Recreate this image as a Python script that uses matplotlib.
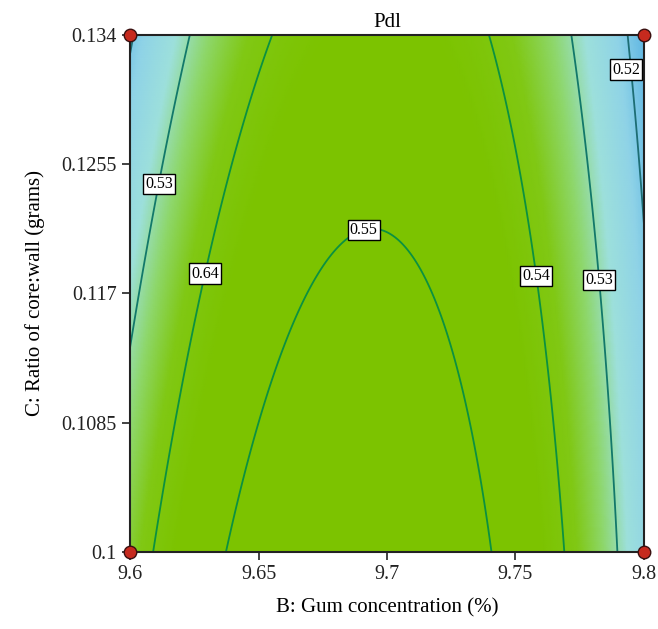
import numpy as np
import matplotlib.pyplot as plt
from matplotlib.colors import LinearSegmentedColormap

# factor ranges (actual units)
gum_range = [9.6, 9.8]
ratio_range = [0.1, 0.134]

# quadratic response model for Pdl in coded units (B = gum, C = ratio)
b0 = 0.55147
bB = -0.00362
bC = -0.00604
bBB = -0.0268
bCC = -0.00068
bBC = 0.00228

levels = [0.52, 0.53, 0.54, 0.55]
level_colors = ["#1d6d74", "#12786a", "#0b9140", "#0b9140"]

xticks = [9.6, 9.65, 9.7, 9.75, 9.8]
xtick_labels = ["9.6", "9.65", "9.7", "9.75", "9.8"]
yticks = [0.1, 0.1085, 0.117, 0.1255, 0.134]
ytick_labels = ["0.1", "0.1085", "0.117", "0.1255", "0.134"]

design_x = [9.6, 9.6, 9.8, 9.8]
design_y = [0.1, 0.134, 0.1, 0.134]

plt.rcParams['font.family'] = ['Liberation Serif', 'DejaVu Serif']

gum = np.linspace(gum_range[0], gum_range[1], 300)
ratio = np.linspace(ratio_range[0], ratio_range[1], 300)
G, R = np.meshgrid(gum, ratio)
B = (G - np.mean(gum_range)) / (np.diff(gum_range)[0] / 2)
C = (R - np.mean(ratio_range)) / (np.diff(ratio_range)[0] / 2)
Z = b0 + bB * B + bC * C + bBB * B ** 2 + bCC * C ** 2 + bBC * B * C

cmap = LinearSegmentedColormap.from_list("de", [
    (0.0, "#5cb4e2"),
    (0.14, "#8fd3e7"),
    (0.28, "#9de0dc"),
    (0.40, "#8ed76c"),
    (0.52, "#80c814"),
    (0.66, "#7cc300"),
    (1.0, "#7cc300"),
])

fig = plt.figure(figsize=(6.58, 6.29), dpi=100)
ax = fig.add_axes([0.1976, 0.1224, 0.7811, 0.8220])

ax.pcolormesh(G, R, Z, cmap=cmap, vmin=0.516, vmax=0.558, shading="gouraud")
cs = ax.contour(G, R, Z, levels=levels, colors=level_colors, linewidths=1.3)

label_pos = [(9.6116, 0.1242), (9.6282, 0.11835), (9.690, 0.1217),
             (9.7578, 0.11815), (9.7818, 0.1179), (9.7934, 0.1317)]
labels = ax.clabel(cs, fmt="%.2f", manual=label_pos, inline=False, fontsize=11.5, colors="black")
for t in labels:
    x, y = t.get_position()
    # the original chart labels the left 0.54 line "0.64"
    if t.get_text() == "0.54" and x < 9.65:
        t.set_text("0.64")
    if t.get_text() == "0.52":
        t.set_position((x - 0.002, y))
    t.set_bbox(dict(facecolor="white", edgecolor="black", linewidth=1, pad=1.5))
    t.set_rotation(0)

ax.plot(design_x, design_y, "o", color="#c62a1e", markeredgecolor="#3a1010",
        markersize=9, clip_on=False, zorder=10)

ax.set_xlim(gum_range)
ax.set_ylim(ratio_range)
ax.set_xticks(xticks)
ax.set_xticklabels(xtick_labels)
ax.set_yticks(yticks)
ax.set_yticklabels(ytick_labels)
ax.tick_params(direction="out", length=6, width=1.2, labelsize=14.5, colors="#222222")
for s in ax.spines.values():
    s.set_linewidth(1.5)
    s.set_color("#222222")

ax.set_title("Pdl", fontsize=15, pad=6)
ax.set_xlabel("B: Gum concentration (%)", fontsize=15, labelpad=10)
ax.set_ylabel("C: Ratio of core:wall (grams)", fontsize=15, labelpad=12)

plt.savefig("out.png", dpi=100)
plt.close()
